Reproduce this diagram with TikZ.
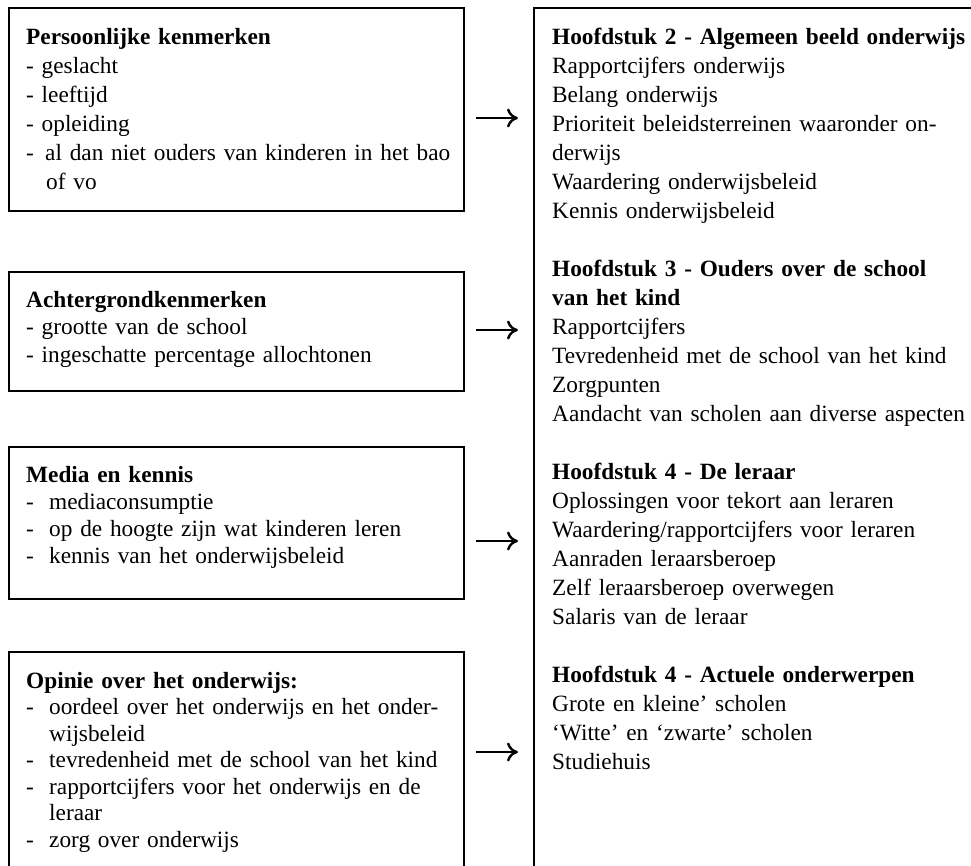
\documentclass[tikz,border=0pt]{standalone}
\usepackage{fontspec}
\setmainfont{Liberation Serif}
\usetikzlibrary{arrows.meta}

\tikzset{
  kader/.style={draw, line width=2.2pt, inner sep=0pt, anchor=north west},
  tekst/.style={anchor=base west, inner sep=0pt, align=left, text width=#1},
  tekst/.default=445pt,
  regel/.style={font=\fontsize{23.3}{#1}\selectfont},
  pijl/.style={line width=2.4pt, -{Computer Modern Rightarrow[length=11pt,width=19pt]},
    shorten <=11pt, shorten >=15pt}
}
\newcommand{\streep}[1][23pt]{\makebox[#1][l]{-}}

\begin{document}
\begin{tikzpicture}[x=1pt,y=-1pt]
    \useasboundingbox (0,0) rectangle (971,865);

    % Kaders links en rechts
    \node[kader, minimum width=455pt, minimum height=203pt] (pers) at (8,7) {};
    \node[kader, minimum width=455pt, minimum height=119pt] (achter) at (8,271) {};
    \node[kader, minimum width=455pt, minimum height=152pt] (media) at (8,446) {};
    \node[kader, minimum width=455pt, minimum height=260pt] (opinie) at (8,651) {};
    \node[kader, minimum width=500pt, minimum height=900pt] (hfd) at (533,7) {};

    % Persoonlijke kenmerken
    \node[tekst, regel=29pt] (persT) at ([shift={(18,37)}]pers.north west) {
        \textbf{Persoonlijke kenmerken}\\
        - geslacht\\
        - leeftijd\\
        - opleiding\\
        \streep[19pt]al dan niet ouders van kinderen in het bao\\
        \hspace*{20pt}of vo};

    % Achtergrondkenmerken
    \node[tekst, regel=27.5pt] (achterT) at ([shift={(18,36)}]achter.north west) {
        \textbf{Achtergrondkenmerken}\\
        - grootte van de school\\
        - ingeschatte percentage allochtonen};

    % Media en kennis
    \node[tekst, regel=27.3pt] (mediaT) at ([shift={(18,36)}]media.north west) {
        \textbf{Media en kennis}\\
        \streep mediaconsumptie\\
        \streep op de hoogte zijn wat kinderen leren\\
        \streep kennis van het onderwijsbeleid};

    % Opinie over het onderwijs
    \node[tekst, regel=26.5pt] (opinieT) at ([shift={(18,37)}]opinie.north west) {
        \textbf{Opinie over het onderwijs:}\\
        \streep oordeel over het onderwijs en het onder-\\
        \hspace*{23pt}wijsbeleid\\
        \streep tevredenheid met de school van het kind\\
        \streep rapportcijfers voor het onderwijs en de\\
        \hspace*{23pt}leraar\\
        \streep zorg over onderwijs};

    % Hoofdstukken
    \node[tekst=460pt, regel=29pt] (hfdT) at ([shift={(19,37)}]hfd.north west) {
        \textbf{Hoofdstuk 2 - Algemeen beeld onderwijs}\\
        Rapportcijfers onderwijs\\
        Belang onderwijs\\
        Prioriteit beleidsterreinen waaronder on-\\
        derwijs\\
        Waardering onderwijsbeleid\\
        Kennis onderwijsbeleid\\[29pt]
        \textbf{Hoofdstuk 3 - Ouders over de school}\\
        \textbf{van het kind}\\
        Rapportcijfers\\
        Tevredenheid met de school van het kind\\
        Zorgpunten\\
        Aandacht van scholen aan diverse aspecten\\[29pt]
        \textbf{Hoofdstuk 4 - De leraar}\\
        Oplossingen voor tekort aan leraren\\
        Waardering/rapportcijfers voor leraren\\
        Aanraden leraarsberoep\\
        Zelf leraarsberoep overwegen\\
        Salaris van de leraar\\[29pt]
        \textbf{Hoofdstuk 4 - Actuele onderwerpen}\\
        Grote en kleine’ scholen\\
        ‘Witte’ en ‘zwarte’ scholen\\
        Studiehuis};

    % Pijlen
    \coordinate (h1) at (0,118);
    \coordinate (h2) at (0,330);
    \coordinate (h3) at (0,541);
    \coordinate (h4) at (0,752);
    \draw[pijl] (pers.east |- h1) -- (hfd.west |- h1);
    \draw[pijl] (achter.east |- h2) -- (hfd.west |- h2);
    \draw[pijl] (media.east |- h3) -- (hfd.west |- h3);
    \draw[pijl] (opinie.east |- h4) -- (hfd.west |- h4);
\end{tikzpicture}
\end{document}
